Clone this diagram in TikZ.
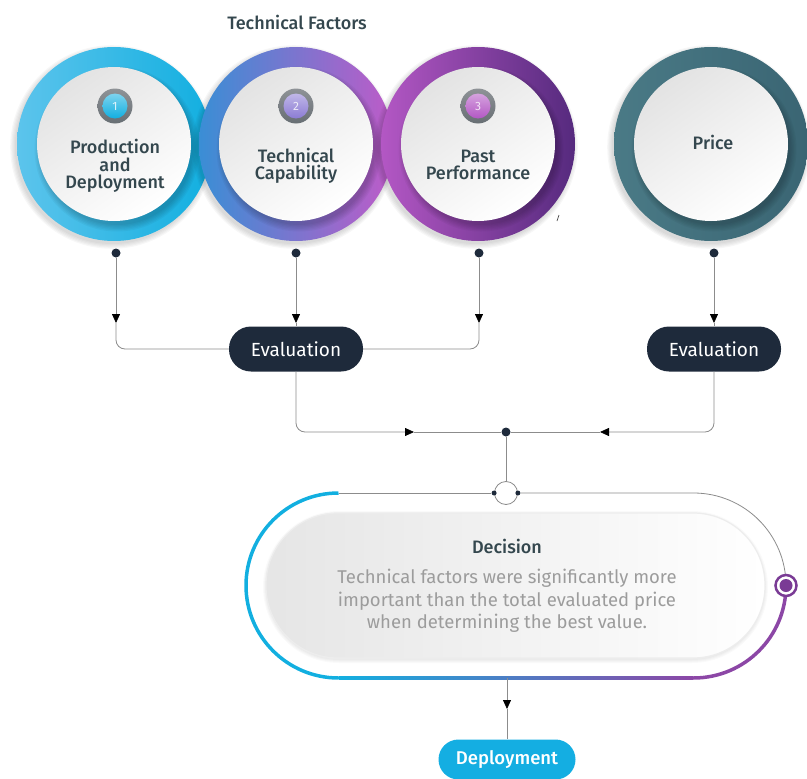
\documentclass[tikz,border=0pt]{standalone}
\usepackage{fontspec}
\setmainfont{Fira Sans}
\newfontfamily\medfont{Fira Sans Medium}
\usetikzlibrary{arrows.meta}

\definecolor{wire}{HTML}{8C8C8C}
\definecolor{navy}{HTML}{1E2A3B}
\definecolor{ink}{HTML}{34474E}
\definecolor{bodygray}{HTML}{9C9C9C}
\definecolor{cyanA}{HTML}{5CC4EC}
\definecolor{cyanB}{HTML}{12AFE0}
\definecolor{blueA}{HTML}{3A8ED5}
\definecolor{magA}{HTML}{BE5BC8}
\definecolor{purA}{HTML}{B357C4}
\definecolor{purB}{HTML}{562A7E}
\definecolor{tealA}{HTML}{4A7A86}
\definecolor{tealB}{HTML}{3A6573}
\definecolor{deploy}{HTML}{14AEE2}
\definecolor{markpur}{HTML}{7A3B95}
\definecolor{arcpur}{HTML}{8C47A6}
\definecolor{badgering}{HTML}{5E6469}
\definecolor{violetB}{HTML}{8C7CD4}
\definecolor{midblue}{HTML}{6C7FD8}

% coloured ring with a white, softly shadowed disk inside
\newcommand{\drawring}[3]{%
  \foreach \k in {0,...,4}
    \fill[black, opacity=0.03] (#1) ++(-2,3) circle ({97+\k*1.2});
  \shade[left color=#2, right color=#3] (#1) circle (97);
  \foreach \k in {0,...,5}
    \fill[black, opacity=0.035] (#1) ++(3,5) circle ({76+\k*1.3});
  \shade[top color=black!11, bottom color=white, shading angle=35] (#1) circle (77);
}
% numbered badge
\newcommand{\drawbadge}[4]{%
  \shade[top color=badgering!70, bottom color=badgering!110!black] (#1) circle (17.5);
  \shade[top color=#2!55!white, bottom color=#2] (#1) circle (12.5);
  \node[text=white, opacity=0.8, font=\fontsize{12}{12}\selectfont] (#4) at (#1) {#3};
}

\begin{document}
\begin{tikzpicture}[x=1pt,y=-1pt,
  wireline/.style={draw=wire, line width=0.8pt},
  tipend/.style={wireline, -{Triangle[width=8pt,length=9pt,black]}},
  dotnode/.style={circle, fill=navy, inner sep=0pt, minimum size=9pt},
  smalldot/.style={circle, fill=navy, inner sep=0pt, minimum size=5pt},
  pill/.style={fill=navy, text=white, rounded corners=22pt, minimum width=134pt,
    minimum height=45pt, inner sep=0pt, font=\fontsize{19}{20}\selectfont},
  ctext/.style={text=ink, align=center, font=\fontsize{18}{17.5}\selectfont\medfont},
]
\useasboundingbox (0,0) rectangle (807,779);

% ---------- header ----------
\node[text=ink, font=\fontsize{18}{20}\selectfont\medfont] (tf) at (297,22) {Technical Factors};

% ---------- factor circles ----------
\coordinate (c1) at (114,144);
\coordinate (c2) at (296,144);
\coordinate (c3) at (478,144);
\coordinate (c4) at (711,144);

\drawring{c1}{cyanA}{cyanB}
\drawring{c2}{blueA}{magA}
\drawring{c3}{purA}{purB}
\drawring{c4}{tealA}{tealB}

\drawbadge{115,106}{cyanB}{1}{n1}
\drawbadge{296,106}{violetB}{2}{n2}
\drawbadge{478,106}{purA}{3}{n3}

\node[ctext] (t1) at (115,166) {Production\\and\\Deployment};
\node[ctext] (t2) at (296,166) {Technical\\Capability};
\node[ctext] (t3) at (478,165) {Past\\Performance};
\node[ctext] (tp) at (713,142) {Price};

% small stroke beside the third circle
\draw[black!70, line width=0.7pt] (557,221) -- (559,215);

% ---------- evaluation stage ----------
\node[dotnode] (d1) at (116,253) {};
\node[dotnode] (d2) at (296,253) {};
\node[dotnode] (d3) at (479,253) {};
\node[dotnode] (d4) at (714,253) {};
\coordinate (k1) at (116,323);
\coordinate (k2) at (296,323);
\coordinate (k3) at (479,323);
\coordinate (k4) at (714,323);

\node[pill] (ev1) at (296,349) {Evaluation};
\node[pill] (ev2) at (714,349) {Evaluation};

\draw[tipend] (d1) -- (k1);
\draw[tipend] (d2) -- (k2);
\draw[tipend] (d3) -- (k3);
\draw[tipend] (d4) -- (k4);
\draw[wireline, rounded corners=9pt] (k1) |- (ev1.west);
\draw[wireline] (k2) -- (ev1.north);
\draw[wireline, rounded corners=9pt] (k3) |- (ev1.east);
\draw[wireline] (k4) -- (ev2.north);

% ---------- merge ----------
\node[dotnode] (hub) at (506,432) {};
\coordinate (a1) at (414,432);
\coordinate (a2) at (600,432);
\draw[tipend, rounded corners=9pt] (ev1.south) |- (a1);
\draw[tipend, rounded corners=9pt] (ev2.south) |- (a2);
\draw[wireline] (a1) -- (hub);
\draw[wireline] (a2) -- (hub);

\node[circle, draw=wire, line width=0.8pt, fill=white, minimum size=23pt, inner sep=0pt] (oc) at (506,493) {};
\draw[wireline] (hub) -- (oc.north);

% ---------- decision capsule ----------
\coordinate (capTL) at (338.5,493);
\coordinate (capTR) at (693.5,493);
\coordinate (capBL) at (338.5,678);
\coordinate (capBR) at (693.5,678);
\coordinate (capb) at (507,678);

\node[smalldot] (ocl) at (oc.west) {};
\node[smalldot] (ocr) at (oc.east) {};
\draw[wireline] (capTL) -- (ocl);
\draw[wireline] (ocr) -- (capTR) arc[start angle=-90, end angle=0, radius=92.5];

\draw[line width=3.5pt, cyanB] (capTL) arc[start angle=-90, end angle=-270, radius=92.5];
\shade[left color=cyanB, middle color=midblue, right color=arcpur]
  (338.5,676.25) rectangle (693.5,679.75);
\draw[line width=3.5pt, arcpur] (capBR) arc[start angle=90, end angle=0, radius=92.5];

\node[circle, draw=markpur, line width=2.5pt, fill=white, minimum size=21pt, inner sep=0pt] (mk) at (786,585.5) {};
\fill[markpur] (mk) circle (6.5);

% inner panel
\foreach \k in {0,...,3}
  \fill[black, opacity=0.02, rounded corners={73+\k}] (266-\k,514-\k) rectangle (765+\k,660+\k);
\shadedraw[left color=black!10, right color=white, draw=black!7, line width=1.2pt, rounded corners=72pt]
  (266,513) rectangle (765,658);

\node[text=ink, font=\fontsize{18}{20}\selectfont\medfont] (dec) at (507,546) {Decision};
\node[text=bodygray, align=center, font=\fontsize{18.5}{22.5}\selectfont] (body) at (507,601)
  {Technical factors were significantly more\\important than the total evaluated price\\when determining the best value.};

% ---------- outcome ----------
\coordinate (k5) at (507,709);
\node[fill=deploy, text=white, rounded corners=20pt, minimum width=137pt, minimum height=40pt,
  inner sep=0pt, font=\fontsize{18.5}{20}\selectfont\medfont] (dep) at (507,759.5) {Deployment};
\draw[tipend] (capb) -- (k5);
\draw[wireline] (k5) -- (dep.north);
\end{tikzpicture}
\end{document}
